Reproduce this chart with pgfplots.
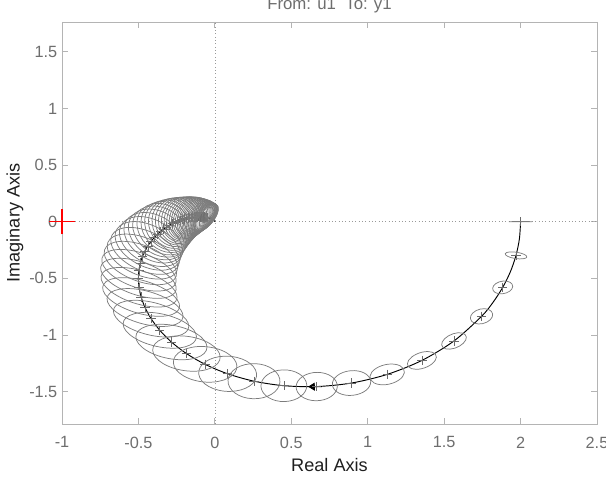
\documentclass[border=0pt]{standalone}
\usepackage{fontspec}
\setmainfont{Liberation Sans}
\usepackage{pgfplots}
\usepackage{pgfplotstable}
\pgfplotsset{compat=1.18}
\usetikzlibrary{arrows.meta}

\definecolor{axgray}{HTML}{B4B4B4}
\definecolor{labgray}{HTML}{6E6E6E}
\definecolor{uncgray}{HTML}{7C7C7C}
\definecolor{markgray}{HTML}{6A6A6A}
\definecolor{critred}{HTML}{FF0000}

% uncertainty ellipse: semi axes a, b (data units), a turned by t degrees
\pgfdeclareplotmark{uncell}{%
  \pgfmathsetmacro\ellux{\ella*cos(\ellt)}%
  \pgfmathsetmacro\elluy{\ella*sin(\ellt)}%
  \pgfmathsetmacro\ellvx{-\ellb*sin(\ellt)}%
  \pgfmathsetmacro\ellvy{\ellb*cos(\ellt)}%
  \pgfpathellipse{\pgfpointorigin}%
    {\pgfplotspointaxisdirectionxy{\ellux}{\elluy}}%
    {\pgfplotspointaxisdirectionxy{\ellvx}{\ellvy}}%
  \pgfusepathqstroke}

% frequency points w = 0:0.05:3, response and ellipse shape
\pgfplotstableread{
x y a b t
2.0000 0.0000 0.076 0.001 0
1.9702 -0.2975 0.072 0.028 -12
1.8829 -0.5804 0.068 0.054 25
1.7446 -0.8356 0.078 0.062 35
1.5645 -1.0529 0.092 0.058 38
1.3545 -1.2248 0.104 0.066 32
1.1274 -1.3482 0.118 0.085 25
0.8942 -1.4243 0.127 0.108 17
0.6664 -1.4555 0.135 0.125 10
0.4515 -1.4480 0.150 0.140 3
0.2560 -1.4080 0.170 0.155 -3
0.0837 -1.3428 0.190 0.155 -8
-0.0636 -1.2594 0.210 0.155 -12
-0.1859 -1.1641 0.225 0.150 -15
-0.2841 -1.0623 0.240 0.145 -18
-0.3604 -0.9585 0.250 0.142 -20
-0.4171 -0.8561 0.260 0.140 -22
-0.4568 -0.7576 0.265 0.140 -24
-0.4823 -0.6648 0.270 0.140 -25
-0.4960 -0.5787 0.270 0.140 -27
-0.5000 -0.5000 0.270 0.140 -28
-0.4966 -0.4287 0.268 0.145 -30
-0.4873 -0.3649 0.265 0.150 -33
-0.4738 -0.3079 0.262 0.155 -36
-0.4571 -0.2577 0.260 0.160 -40
-0.4383 -0.2136 0.255 0.165 -45
-0.4182 -0.1750 0.250 0.170 -50
-0.3973 -0.1415 0.245 0.170 -55
-0.3763 -0.1123 0.240 0.170 -60
-0.3555 -0.0872 0.237 0.168 -65
-0.3350 -0.0656 0.235 0.165 -70
-0.3152 -0.0470 0.230 0.162 -74
-0.2961 -0.0312 0.225 0.160 -78
-0.2779 -0.0178 0.220 0.155 -82
-0.2606 -0.0064 0.215 0.150 -85
-0.2442 0.0033 0.210 0.145 -88
-0.2288 0.0113 0.205 0.140 -92
-0.2143 0.0181 0.200 0.135 -94
-0.2007 0.0237 0.197 0.130 -96
-0.1879 0.0283 0.193 0.125 -98
-0.1760 0.0320 0.190 0.120 -100
-0.1649 0.0350 0.187 0.116 -102
-0.1545 0.0374 0.183 0.112 -104
-0.1448 0.0393 0.179 0.108 -105
-0.1358 0.0406 0.175 0.104 -106
-0.1273 0.0417 0.171 0.100 -108
-0.1195 0.0423 0.167 0.096 -109
-0.1122 0.0427 0.163 0.092 -110
-0.1054 0.0429 0.160 0.088 -111
-0.0991 0.0429 0.157 0.083 -112
-0.0932 0.0426 0.155 0.078 -113
-0.0876 0.0423 0.152 0.074 -113
-0.0825 0.0418 0.149 0.071 -114
-0.0777 0.0413 0.146 0.068 -114
-0.0733 0.0407 0.143 0.065 -115
-0.0691 0.0400 0.141 0.062 -115
-0.0652 0.0392 0.139 0.059 -116
-0.0616 0.0385 0.137 0.057 -116
-0.0582 0.0377 0.135 0.055 -117
-0.0550 0.0368 0.132 0.053 -117
-0.0520 0.0360 0.130 0.050 -118
}\elltab

\begin{document}
\begin{tikzpicture}
\begin{axis}[
  scale only axis,
  width=401.25pt, height=301.5pt,
  xmin=-1, xmax=2.5, ymin=-1.786, ymax=1.763,
  xtick={-1,-0.5,0,0.5,1,1.5,2,2.5},
  ytick={-1.5,-1,-0.5,0,0.5,1,1.5},
  tick align=inside, major tick length=4.5pt,
  axis line style={draw=axgray, line width=0.6pt},
  tick style={draw=axgray, line width=0.6pt},
  /pgf/number format/assume math mode=true,
  ticklabel style={font=\fontsize{12.2}{14}\selectfont, text=labgray},
  xticklabel style={yshift=-6pt},
  xlabel={Real Axis}, ylabel={Imaginary Axis},
  xlabel style={at={(axis description cs:0.5,-0.102)}, anchor=center,
    font=\fontsize{13.6}{16}\selectfont, text=black!88},
  ylabel style={at={(axis description cs:-0.088,0.5)}, anchor=center,
    font=\fontsize{13.6}{16}\selectfont, text=black!88},
  title={From: u1\ \ To: y1},
  title style={at={(axis description cs:0.5,1.011)}, anchor=base, yshift=0pt,
    font=\fontsize{12.6}{15}\selectfont, text=labgray},
  clip=false,
]
% zero lines
\addplot[black!40, dotted, line width=0.5pt] coordinates {(0,-1.786) (0,1.763)};
\addplot[black!40, dotted, line width=0.5pt] coordinates {(-1,0) (2.5,0)};
% frequency marks
\addplot[color=markgray, only marks, mark=+, mark size=3.5pt,
  mark options={draw=markgray, line width=0.5pt}] table[x=x, y=y] {\elltab};
% confidence ellipses
\addplot[color=uncgray, only marks, mark=uncell,
  visualization depends on={\thisrow{a}\as\ella},
  visualization depends on={\thisrow{b}\as\ellb},
  visualization depends on={\thisrow{t}\as\ellt},
  mark options={line width=0.55pt}] table[x=x, y=y] {\elltab};
% nominal response
\addplot[black, line width=0.7pt, smooth, no marks] coordinates {
(2.0000,0.0000) (1.9925,-0.1497) (1.9702,-0.2975) (1.9334,-0.4417)
(1.8829,-0.5804) (1.8196,-0.7122) (1.7446,-0.8356) (1.5645,-1.0529)
(1.3545,-1.2248) (1.1274,-1.3482) (0.8942,-1.4243) (0.6664,-1.4555)
(0.4515,-1.4480) (0.2560,-1.4080) (0.0837,-1.3428) (-0.0636,-1.2594)
(-0.1859,-1.1641) (-0.2841,-1.0623) (-0.3604,-0.9585) (-0.4171,-0.8561)
(-0.4568,-0.7576) (-0.4823,-0.6648) (-0.4960,-0.5787) (-0.5000,-0.5000)
(-0.4966,-0.4287) (-0.4873,-0.3649) (-0.4738,-0.3079) (-0.4571,-0.2577)
(-0.4383,-0.2136) (-0.4182,-0.1750) (-0.3973,-0.1415) (-0.3763,-0.1123)
(-0.3555,-0.0872) (-0.3350,-0.0656) (-0.3152,-0.0470) (-0.2961,-0.0312)
(-0.2779,-0.0178) (-0.2606,-0.0064) (-0.2442,0.0033) (-0.2288,0.0113)
(-0.2143,0.0181) (-0.2007,0.0237) (-0.1879,0.0283) (-0.1760,0.0320)
(-0.1545,0.0374) (-0.1358,0.0406) (-0.1195,0.0423) (-0.1054,0.0429)
(-0.0932,0.0426) (-0.0825,0.0418) (-0.0733,0.0407) (-0.0652,0.0392)
(-0.0582,0.0377) (-0.0520,0.0360) (-0.0308,0.0278) (-0.0191,0.0212)
(-0.0084,0.0125) (-0.0023,0.0052) (-0.0006,0.0019) (0,0)
};
% direction arrow
\addplot[black, line width=0.7pt, -{Triangle[length=5pt, width=6pt]}]
  coordinates {(0.70,-1.4555) (0.61,-1.4568)};
% critical point -1
\addplot[critred, line width=0.8pt] coordinates {(-1.082,0) (-0.918,0)};
\addplot[critred, line width=0.8pt] coordinates {(-1,-0.113) (-1,0.113)};
\end{axis}
\pgfresetboundingbox
\path[use as bounding box]
  ([xshift=-46.5pt, yshift=-42pt]current axis.south west) rectangle
  ([xshift=6.75pt, yshift=16.5pt]current axis.north east);
\end{tikzpicture}
\end{document}
